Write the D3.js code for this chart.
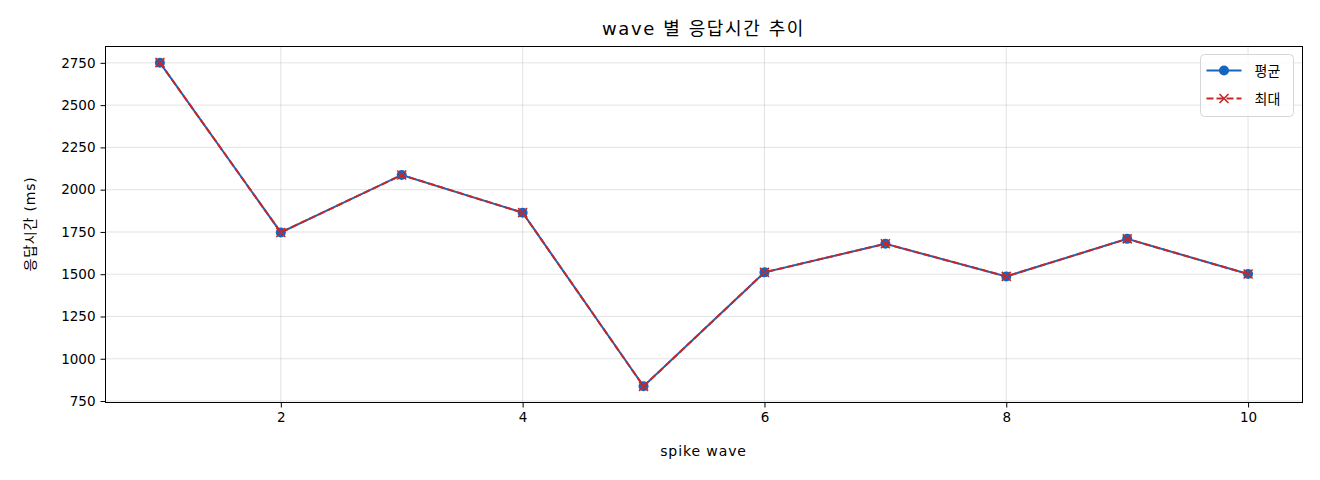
<!DOCTYPE html>
<html>
<head>
<meta charset="utf-8">
<script src="https://cdn.jsdelivr.net/npm/d3@7"></script>
<style>
  body { margin: 0; background: #fff; }
  svg text { font-family: "DejaVu Sans", "Noto Sans CJK KR", sans-serif; fill: #000; }
</style>
</head>
<body>
<div id="chart"></div>
<script>
// data
const waves = [1, 2, 3, 4, 5, 6, 7, 8, 9, 10];
const avgMs = [2751, 1747, 2087, 1864, 837, 1511, 1680, 1487, 1709, 1501];
const maxMs = [2751, 1747, 2087, 1864, 837, 1511, 1680, 1487, 1709, 1501];
const xTicks = [2, 4, 6, 8, 10];
const yTicks = [750, 1000, 1250, 1500, 1750, 2000, 2250, 2500, 2750];

const width = 1320, height = 480;
const margin = { top: 46, right: 18, bottom: 78, left: 105 };
const iw = width - margin.left - margin.right;
const ih = height - margin.top - margin.bottom;

const blue = "#1565c0", red = "#c62828";

const svg = d3.select("#chart").append("svg")
    .attr("width", width)
    .attr("height", height);

// matplotlib-like 5% padding
const xExt = d3.extent(waves);
const allY = avgMs.concat(maxMs);
const yExt = d3.extent(allY);
const xPad = (xExt[1] - xExt[0]) * 0.05;
const yPad = (yExt[1] - yExt[0]) * 0.05;

const x = d3.scaleLinear()
    .domain([xExt[0] - xPad, xExt[1] + xPad])
    .range([0, iw]);
const y = d3.scaleLinear()
    .domain([yExt[0] - yPad, yExt[1] + yPad])
    .range([ih, 0]);

const g = svg.append("g").attr("transform", `translate(${margin.left + 0.5},${margin.top + 0.5})`);

// grid
g.append("g").selectAll("line.gx")
    .data(xTicks).enter().append("line")
    .attr("x1", d => x(d)).attr("x2", d => x(d))
    .attr("y1", 0).attr("y2", ih)
    .attr("stroke", "#b0b0b0").attr("stroke-opacity", 0.35).attr("stroke-width", 1);
g.append("g").selectAll("line.gy")
    .data(yTicks).enter().append("line")
    .attr("x1", 0).attr("x2", iw)
    .attr("y1", d => y(d)).attr("y2", d => y(d))
    .attr("stroke", "#b0b0b0").attr("stroke-opacity", 0.35).attr("stroke-width", 1);

// axes
const xAxis = g.append("g")
    .attr("transform", `translate(0,${ih})`)
    .call(d3.axisBottom(x).tickValues(xTicks).tickSize(5).tickPadding(5).tickFormat(d3.format("d")));
const yAxis = g.append("g")
    .call(d3.axisLeft(y).tickValues(yTicks).tickSize(5).tickPadding(5).tickFormat(d3.format("d")));
[xAxis, yAxis].forEach(a => {
    a.select(".domain").remove();
    a.selectAll(".tick line").attr("stroke", "#000").attr("stroke-width", 1);
    a.selectAll(".tick text").style("font-size", "13.5px").attr("fill", "#000");
});

// frame
g.append("rect")
    .attr("width", iw).attr("height", ih)
    .attr("fill", "none").attr("stroke", "#000").attr("stroke-width", 1);

const line = d3.line().x((d, i) => x(waves[i])).y(d => y(d));

// 평균
g.append("path").datum(avgMs)
    .attr("d", line).attr("fill", "none")
    .attr("stroke", blue).attr("stroke-width", 2);
g.append("g").selectAll("circle")
    .data(avgMs).enter().append("circle")
    .attr("cx", (d, i) => x(waves[i])).attr("cy", d => y(d))
    .attr("r", 5).attr("fill", blue);

// 최대
g.append("path").datum(maxMs)
    .attr("d", line).attr("fill", "none")
    .attr("stroke", red).attr("stroke-width", 2)
    .attr("stroke-dasharray", "7,3");
const xMark = (cx, cy, s) => `M${cx - s},${cy - s}L${cx + s},${cy + s}M${cx - s},${cy + s}L${cx + s},${cy - s}`;
g.append("g").selectAll("path")
    .data(maxMs).enter().append("path")
    .attr("d", (d, i) => xMark(x(waves[i]), y(d), 4.5))
    .attr("stroke", red).attr("stroke-width", 1.6).attr("fill", "none");

// titles
svg.append("text")
    .attr("x", margin.left + iw / 2).attr("y", 35)
    .attr("text-anchor", "middle").style("font-size", "18px")
    .style("letter-spacing", "1.6px")
    .text("wave 별 응답시간 추이");
svg.append("text")
    .attr("x", margin.left + iw / 2).attr("y", 456)
    .attr("text-anchor", "middle").style("font-size", "14px")
    .style("letter-spacing", "0.9px")
    .text("spike wave");
svg.append("text")
    .attr("transform", `translate(35,${margin.top + ih / 2}) rotate(-90)`)
    .attr("text-anchor", "middle").style("font-size", "14px")
    .style("letter-spacing", "0.8px")
    .text("응답시간 (ms)");

// legend
const lg = svg.append("g").attr("transform", "translate(1200.5,54.5)");
lg.append("rect")
    .attr("width", 93).attr("height", 62).attr("rx", 4)
    .attr("fill", "#fff").attr("fill-opacity", 0.8)
    .attr("stroke", "#d6d6d6").attr("stroke-width", 1);
lg.append("line").attr("x1", 6).attr("x2", 41).attr("y1", 16).attr("y2", 16)
    .attr("stroke", blue).attr("stroke-width", 2);
lg.append("circle").attr("cx", 23.5).attr("cy", 16).attr("r", 5).attr("fill", blue);
lg.append("line").attr("x1", 6).attr("x2", 41).attr("y1", 44).attr("y2", 44)
    .attr("stroke", red).attr("stroke-width", 2).attr("stroke-dasharray", "7,3");
lg.append("path").attr("d", xMark(23.5, 44, 4.5))
    .attr("stroke", red).attr("stroke-width", 1.6);
lg.append("text").attr("x", 54).attr("y", 21).style("font-size", "14px").text("평균");
lg.append("text").attr("x", 54).attr("y", 49).style("font-size", "14px").text("최대");
</script>
</body>
</html>
